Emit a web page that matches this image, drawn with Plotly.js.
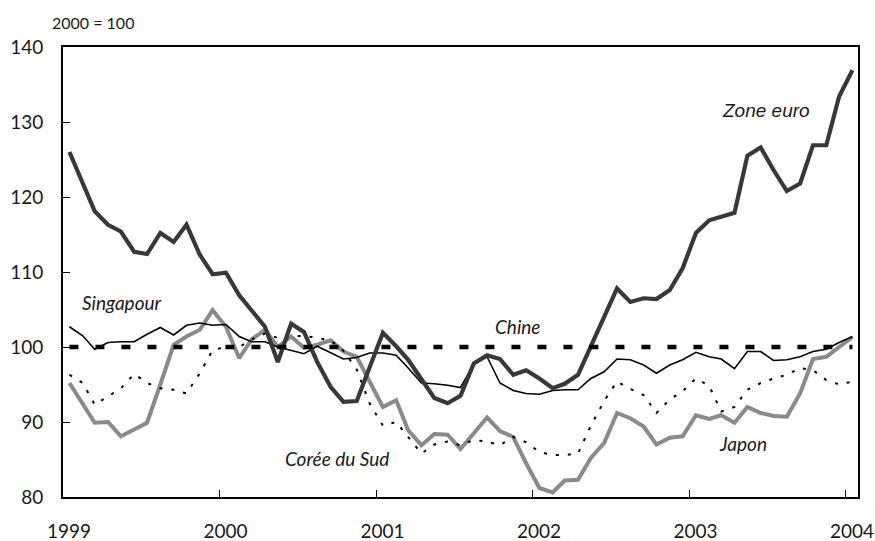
<!DOCTYPE html>
<html>
<head>
<meta charset="utf-8">
<script src="https://cdn.plot.ly/plotly-3.0.1.min.js"></script>
<style>html,body{margin:0;padding:0;background:#fff;}#chart{width:875px;height:541px;}</style>
</head>
<body>
<div id="chart"></div>
<script>
// Monthly series, January 1999 to January 2004 (index 2000 = 100)
var startYear = 1999;
var nMonths = 61;

var zoneEuro = [126.0,121.8,118.1,116.3,115.4,112.7,112.4,115.2,114.0,116.3,112.3,109.7,
  109.9,106.9,104.8,102.7,98.0,103.1,102.0,98.0,94.7,92.7,92.8,97.4,
  101.9,100.1,98.3,95.7,93.2,92.5,93.5,97.8,98.9,98.4,96.3,96.9,
  95.8,94.5,95.1,96.3,100.0,103.8,107.8,106.0,106.5,106.4,107.6,110.5,
  115.2,116.9,117.4,117.9,125.5,126.6,123.6,120.8,121.8,126.9,126.9,133.4,
  136.9];

var japon = [95.2,92.5,89.9,90.0,88.1,89.0,89.9,95.0,100.3,101.4,102.3,104.9,
  102.7,98.5,101.0,102.3,100.0,101.4,99.9,100.3,100.9,99.4,98.7,95.4,
  92.0,92.9,88.9,86.9,88.4,88.3,86.4,88.5,90.6,88.8,88.0,84.5,
  81.2,80.6,82.2,82.3,85.2,87.2,91.2,90.5,89.4,87.0,87.9,88.1,
  90.9,90.4,90.9,89.9,92.0,91.2,90.8,90.7,93.8,98.4,98.7,100.0,
  101.3];

var singapour = [102.7,101.5,99.7,100.6,100.7,100.7,101.7,102.6,101.6,102.9,103.2,102.9,
  103.0,101.4,100.7,100.7,100.0,99.5,99.1,100.1,99.2,98.4,98.6,99.2,
  99.2,98.9,97.2,95.2,95.1,94.9,94.6,97.7,98.7,95.2,94.2,93.8,
  93.7,94.2,94.3,94.3,95.8,96.7,98.4,98.3,97.6,96.5,97.6,98.3,
  99.3,98.7,98.4,97.1,99.4,99.4,98.2,98.3,98.7,99.4,99.7,100.6,
  101.4];

var coreeDuSud = [96.3,95.2,92.3,93.4,94.5,96.4,95.2,94.5,94.3,93.8,96.5,99.6,
  100.0,100.0,101.0,101.8,101.2,101.4,101.5,101.2,100.9,99.5,97.0,92.5,
  89.5,90.0,88.0,85.8,87.0,87.4,86.9,87.6,87.4,86.9,88.0,87.3,
  86.0,85.6,85.6,85.8,89.5,92.8,95.4,94.4,93.6,91.2,93.0,94.1,
  95.8,94.8,91.4,92.0,94.3,95.2,95.8,96.3,97.2,96.9,95.6,95.0,
  95.4];

var chine = [100,100,100,100,100,100,100,100,100,100,100,100,
  100,100,100,100,100,100,100,100,100,100,100,100,
  100,100,100,100,100,100,100,100,100,100,100,100,
  100,100,100,100,100,100,100,100,100,100,100,100,
  100,100,100,100,100,100,100,100,100,100,100,100,
  100];

var yearTicks = ["1999-01-01","2000-01-01","2001-01-01","2002-01-01","2003-01-01","2004-01-01"];
var yearLabels = ["1999","2000","2001","2002","2003","2004"];

// month dates (mid-month)
var months = [];
for (var i = 0; i < nMonths; i++) {
  var y = startYear + Math.floor(i / 12);
  var m = (i % 12) + 1;
  months.push(y + "-" + (m < 10 ? "0" + m : m) + "-16");
}

var traces = [
  {x: months, y: japon, name: "Japon", mode: "lines",
   line: {color: "#8a8a8a", width: 4}},
  {x: months, y: coreeDuSud, name: "Corée du Sud", mode: "lines",
   line: {color: "#000000", width: 2, dash: "3px,9px"}},
  {x: months, y: singapour, name: "Singapour", mode: "lines",
   line: {color: "#000000", width: 1.6}},
  {x: months, y: zoneEuro, name: "Zone euro", mode: "lines",
   line: {color: "#383838", width: 4.2}},
  {x: months, y: chine, name: "Chine", mode: "lines",
   line: {color: "#000000", width: 4.3, dash: "9px,17px"}}
];

var labFont = {family: "Lato, 'Open Sans', sans-serif", size: 19, color: "#1a1a1a", style: "italic"};

var layout = {
  width: 875, height: 541,
  margin: {l: 63, r: 17, t: 47, b: 44},
  paper_bgcolor: "#ffffff", plot_bgcolor: "#ffffff",
  showlegend: false,
  font: {family: "Lato, 'Open Sans', sans-serif", color: "#1a1a1a"},
  xaxis: {
    type: "date",
    range: ["1999-01-01", "2004-01-29"],
    tickvals: yearTicks, ticktext: yearLabels,
    ticks: "inside", ticklen: 7, tickwidth: 1, tickcolor: "#000",
    ticklabelshift: 6, ticklabelstandoff: 16,
    showgrid: false, zeroline: false,
    showline: true, linecolor: "#000", linewidth: 2, mirror: true,
    tickfont: {size: 19, color: "#1a1a1a"}
  },
  yaxis: {
    range: [80, 140], dtick: 10, tick0: 80,
    ticks: "inside", ticklen: 7, tickwidth: 1, tickcolor: "#000",
    ticklabelstandoff: 14,
    showgrid: false, zeroline: false,
    showline: true, linecolor: "#000", linewidth: 2, mirror: true,
    tickfont: {size: 19, color: "#1a1a1a"}
  },
  annotations: [
    {xref: "paper", yref: "paper", x: -0.016, y: 1.028, xanchor: "left", yanchor: "bottom",
     text: "2000 = 100", showarrow: false, font: {size: 16, color: "#1a1a1a"}},
    {x: "2003-06-28", y: 131.6, text: "Zone euro", showarrow: false,
     font: {family: "'Liberation Sans', Arial, sans-serif", size: 19, color: "#1a1a1a", style: "italic"}},
    {x: "1999-05-18", y: 105.9, text: "Singapour", showarrow: false, font: labFont},
    {x: "2001-11-26", y: 102.7, text: "Chine", showarrow: false, font: labFont},
    {x: "2000-10-02", y: 85.2, text: "Corée du Sud", showarrow: false, font: labFont},
    {x: "2003-05-05", y: 87.2, text: "Japon", showarrow: false, font: labFont}
  ]
};

Plotly.newPlot("chart", traces, layout, {displayModeBar: false, staticPlot: true});
</script>
</body>
</html>
